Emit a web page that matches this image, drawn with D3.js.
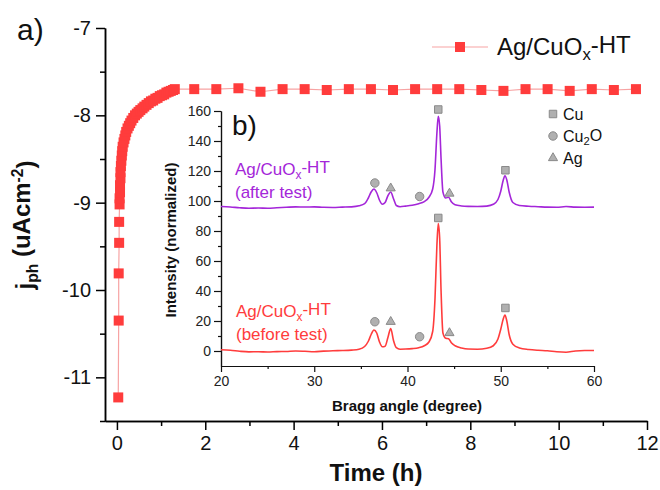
<!DOCTYPE html>
<html lang="en">
<head>
  <meta charset="utf-8">
  <title>Ag/CuOx-HT stability</title>
  <style>
    body { margin: 0; background: #fff; }
    svg { font-family: "Liberation Sans", Arial, sans-serif; }
    .main .domain, .main line { stroke: #000; stroke-width: 1.5px; }
    .main text { font-size: 20px; fill: #111; }
    .inset .domain, .inset line { stroke: #111; stroke-width: 1.2px; }
    .inset text { font-size: 14px; fill: #222; }
    .xrd { fill: none; stroke-width: 1.6px; }
    .mk { fill: #b0b0b0; stroke: #8a8a8a; stroke-width: 1px; }
  </style>
</head>
<body>
<svg width="660" height="490"></svg>
<script src="https://d3js.org/d3.v7.min.js"></script>
<script>

// photocurrent vs time
var timeH = [0.03, 0.04, 0.04, 0.05, 0.05, 0.06,
             0.06, 0.07, 0.07, 0.08, 0.08, 0.09, 0.10, 0.11, 0.12, 0.13,
             0.15, 0.17, 0.19, 0.21, 0.24, 0.27, 0.30, 0.33, 0.37, 0.41,
             0.45, 0.49, 0.53, 0.58, 0.62, 0.67, 0.72, 0.77, 0.82, 0.87,
             0.92, 0.97, 1.02, 1.07, 1.12, 1.17, 1.22, 1.27, 1.31,
             1.75, 2.25, 2.75, 3.25, 3.75, 4.25, 4.75, 5.25, 5.75, 6.25,
             6.75, 7.25, 7.75, 8.25, 8.75, 9.25, 9.75, 10.25, 10.75, 11.25, 11.75];
var jph = [-11.23, -10.35, -9.81, -9.46, -9.22, -9.02,
           -8.95, -8.88, -8.80, -8.72, -8.65, -8.58, -8.52, -8.46, -8.41, -8.36,
           -8.31, -8.27, -8.23, -8.19, -8.15, -8.12, -8.09, -8.06, -8.03, -8.00,
           -7.98, -7.96, -7.94, -7.92, -7.90, -7.88, -7.86, -7.84, -7.83, -7.81,
           -7.80, -7.78, -7.77, -7.76, -7.74, -7.73, -7.72, -7.71, -7.70,
           -7.70, -7.70, -7.69, -7.73, -7.70, -7.70, -7.71, -7.70, -7.70, -7.71,
           -7.70, -7.70, -7.70, -7.71, -7.72, -7.70, -7.70, -7.72, -7.70, -7.71, -7.70];

// XRD inset
var bragg = [20, 21, 22, 23, 24, 25, 26, 27, 28, 29, 30, 31, 32, 33, 34, 34.8, 35.4, 35.8,
             36.1, 36.4, 36.7, 37.0, 37.3, 37.6, 37.9, 38.2, 38.5, 38.8, 39.2, 39.8, 40.5,
             41.2, 41.8, 42.3, 42.7, 42.95, 43.15, 43.3, 43.45, 43.6, 43.8, 44.1, 44.4, 44.7,
             45.1, 45.8, 46.5, 47.5, 48.5, 49.2, 49.7, 50.0, 50.25, 50.45, 50.65, 50.9, 51.3,
             52, 53, 54, 55, 56, 57, 58, 59, 60];
var afterTest = [96.3, 96, 95.5, 95.2, 95.3, 95.2, 95.5, 95.8, 96.1, 96, 96.1, 95.8, 95.7, 95.9, 96.1, 96.8, 98.2, 102,
                 106, 108, 105.5, 100.5, 97.8, 99, 103.5, 106, 101.5, 97, 96.2, 96.6, 97.2,
                 98.2, 99.6, 102.5, 108, 121, 145, 156.5, 150, 128, 106, 102, 102.5, 99.5,
                 97.5, 96.7, 96.4, 96.3, 96.6, 97.8, 101, 106.5, 113.5, 116.8, 114, 106, 99,
                 97, 96.5, 96.2, 95.9, 95.8, 96.3, 95.9, 95.8, 95.9];
var beforeTest = [0.8, 0.5, -0.2, -0.6, -0.5, -0.7, -0.4, -0.3, 0, -0.2, -0.5, -0.1, 0.2, 0.3, 0.6, 1.2, 3, 6.5,
                  11, 14, 12, 6, 2.8, 3.2, 9, 15, 7, 2.2, 1.2, 1.3, 1.6,
                  2.2, 3.5, 6, 13, 35, 70, 85, 75, 40, 12, 8.5, 8.2, 5.5,
                  3.5, 2, 1.3, 1.2, 1.8, 3.5, 8, 14.5, 21, 24, 20, 11, 4.5,
                  2, 1, 0.5, 0.2, -0.5, -0.8, 0, 0.3, 0.3];

// phase markers: angle, intensity, kind
var mkAngle = [36.5, 38.2, 41.3, 43.3, 44.5, 50.5, 36.5, 38.2, 41.3, 43.3, 44.5, 50.5];
var mkValue = [112, 108.5, 103, 161, 105, 120.5, 19.5, 19.5, 9.5, 88.7, 12, 28.7];
var mkKind  = ["Cu2O", "Ag", "Cu2O", "Cu", "Ag", "Cu", "Cu2O", "Ag", "Cu2O", "Cu", "Ag", "Cu"];
var phases = ["Cu", "Cu2O", "Ag"];

var red = "#ff3c3c", pink = "#f7a3a3", purple = "#a426d9";

var svg = d3.select("svg");

// ---------- main chart ----------
var x = d3.scaleLinear().domain([-0.27, 12]).range([105, 647]);
var y = d3.scaleLinear().domain([-11.5, -7]).range([421, 28]);

var gm = svg.append("g").attr("class", "main");

gm.append("g")
  .attr("transform", "translate(0,421)")
  .call(d3.axisBottom(x).tickValues(d3.range(1, 12, 2)).tickSize(5).tickSizeOuter(0).tickFormat(""));
gm.append("g")
  .attr("transform", "translate(0,421)")
  .call(d3.axisBottom(x).tickValues(d3.range(0, 13, 2)).tickSize(9).tickSizeOuter(0).tickPadding(6));

gm.append("g")
  .attr("transform", "translate(105,0)")
  .call(d3.axisLeft(y).tickValues([-7.5, -8.5, -9.5, -10.5, -11.5]).tickSize(5).tickSizeOuter(0).tickFormat(""));
gm.append("g")
  .attr("transform", "translate(105,0)")
  .call(d3.axisLeft(y).tickValues([-7, -8, -9, -10, -11]).tickSize(9).tickSizeOuter(0).tickPadding(5)
         .tickFormat(d3.format("d")));

gm.selectAll("text").attr("font-family", null);
gm.selectAll(".tick text").text(function() { return this.textContent.replace("\u2212", "-"); });

var pts = timeH.map(function(t, i) { return [t, jph[i]]; });

var line = d3.line()
             .x(function(d) { return x(d[0]); })
             .y(function(d) { return y(d[1]); });

svg.append("path")
   .attr("d", line(pts))
   .attr("fill", "none")
   .attr("stroke", pink)
   .attr("stroke-width", 1.2);

svg.selectAll("rect.sq")
   .data(pts)
   .enter()
   .append("rect")
   .attr("class", "sq")
   .attr("x", function(d) { return x(d[0]) - 5; })
   .attr("y", function(d) { return y(d[1]) - 5; })
   .attr("width", 10)
   .attr("height", 10)
   .attr("fill", red);

// legend
svg.append("line").attr("x1", 432).attr("x2", 488).attr("y1", 47).attr("y2", 47)
   .attr("stroke", pink).attr("stroke-width", 1.2);
svg.append("rect").attr("x", 455).attr("y", 42).attr("width", 10).attr("height", 10).attr("fill", red);

function chemLabel(sel) {
  sel.append("tspan").text("Ag/CuO");
  sel.append("tspan").attr("dy", "0.3em").attr("font-size", "0.7em").text("x");
  sel.append("tspan").attr("dy", "-0.3em").text("-HT");
}

svg.append("text")
   .attr("x", 497).attr("y", 55)
   .attr("font-size", 24).attr("fill", "#111")
   .call(chemLabel);

svg.append("text").attr("x", 17).attr("y", 40).attr("font-size", 30).attr("fill", "#111").text("a)");

svg.append("text")
   .attr("x", 376).attr("y", 481)
   .attr("text-anchor", "middle")
   .attr("font-size", 24).attr("font-weight", "bold").attr("fill", "#111")
   .text("Time (h)");

var yt = svg.append("text")
   .attr("transform", "translate(33,225) rotate(-90)")
   .attr("text-anchor", "middle")
   .attr("font-size", 24).attr("font-weight", "bold").attr("fill", "#111");
yt.append("tspan").text("j");
yt.append("tspan").attr("dy", "0.3em").attr("font-size", "0.65em").text("ph");
yt.append("tspan").attr("dy", "-0.3em").text(" (uAcm");
yt.append("tspan").attr("dy", "-0.45em").attr("font-size", "0.65em").text("-2");
yt.append("tspan").attr("dy", "0.45em").text(")");

// ---------- inset ----------
var xi = d3.scaleLinear().domain([20, 60]).range([221, 594]);
var yi = d3.scaleLinear().domain([-10, 160]).range([366, 111]);

var gi = svg.append("g").attr("class", "inset");

gi.append("g")
  .attr("transform", "translate(0,366)")
  .call(d3.axisBottom(xi).tickValues([25, 35, 45, 55]).tickSize(3).tickSizeOuter(0).tickFormat(""));
gi.append("g")
  .attr("transform", "translate(0,366)")
  .call(d3.axisBottom(xi).tickValues([20, 30, 40, 50, 60]).tickSize(6).tickSizeOuter(0).tickPadding(4));
gi.append("g")
  .attr("transform", "translate(221,0)")
  .call(d3.axisLeft(yi).tickValues(d3.range(10, 160, 20)).tickSize(3).tickSizeOuter(0).tickFormat(""));
gi.append("g")
  .attr("transform", "translate(221,0)")
  .call(d3.axisLeft(yi).tickValues(d3.range(0, 161, 20)).tickSize(7).tickSizeOuter(0).tickPadding(3));
gi.selectAll("text").attr("font-family", null);

var lineI = d3.line()
              .x(function(d, i) { return xi(bragg[i]); })
              .y(function(d) { return yi(d); })
              .curve(d3.curveMonotoneX);

svg.append("path").attr("class", "xrd").attr("stroke", purple).attr("d", lineI(afterTest));
svg.append("path").attr("class", "xrd").attr("stroke", red).attr("d", lineI(beforeTest));

var symType = { "Cu": d3.symbolSquare, "Cu2O": d3.symbolCircle, "Ag": d3.symbolTriangle };
var symSize = { "Cu": 56, "Cu2O": 56, "Ag": 36 };

svg.selectAll("path.mk")
   .data(mkAngle)
   .enter()
   .append("path")
   .attr("class", "mk")
   .attr("d", function(d, i) { return d3.symbol().type(symType[mkKind[i]]).size(symSize[mkKind[i]])(); })
   .attr("transform", function(d, i) { return "translate(" + xi(d) + "," + yi(mkValue[i]) + ")"; });

// phase legend
phases.forEach(function(p, i) {
  var ly = 114 + i * 22;
  svg.append("path")
     .attr("class", "mk")
     .attr("d", d3.symbol().type(symType[p]).size(symSize[p])())
     .attr("transform", "translate(553," + ly + ")");
  var t = svg.append("text").attr("x", 563).attr("y", ly + 6).attr("font-size", 16).attr("fill", "#111");
  if (p == "Cu2O") {
    t.append("tspan").text("Cu");
    t.append("tspan").attr("dy", "0.3em").attr("font-size", "0.7em").text("2");
    t.append("tspan").attr("dy", "-0.3em").text("O");
  } else {
    t.text(p);
  }
});

svg.append("text").attr("x", 232).attr("y", 135).attr("font-size", 28).attr("fill", "#111").text("b)");

svg.append("text").attr("x", 235).attr("y", 175).attr("font-size", 17).attr("fill", purple).call(chemLabel);
svg.append("text").attr("x", 235).attr("y", 198).attr("font-size", 17).attr("fill", purple).text("(after test)");
svg.append("text").attr("x", 236).attr("y", 317).attr("font-size", 17).attr("fill", red).call(chemLabel);
svg.append("text").attr("x", 236).attr("y", 340).attr("font-size", 17).attr("fill", red).text("(before test)");

svg.append("text")
   .attr("x", 407).attr("y", 411)
   .attr("text-anchor", "middle")
   .attr("font-size", 15).attr("font-weight", "bold").attr("fill", "#111")
   .text("Bragg angle (degree)");

svg.append("text")
   .attr("transform", "translate(176,240) rotate(-90)")
   .attr("text-anchor", "middle")
   .attr("font-size", 15).attr("font-weight", "bold").attr("fill", "#111")
   .text("Intensity (normalized)");

</script>
</body>
</html>
